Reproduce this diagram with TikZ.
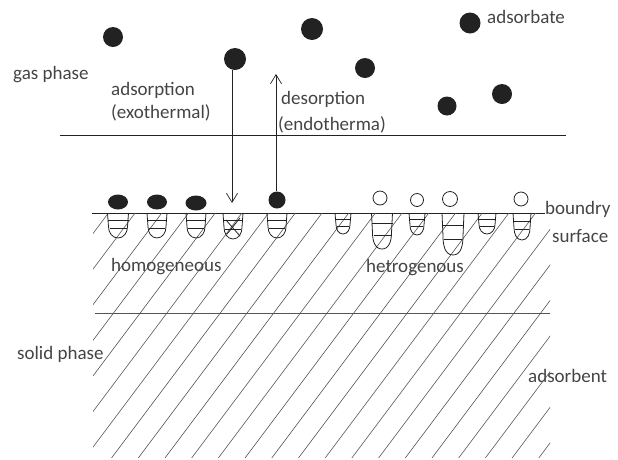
\documentclass[tikz,border=0pt]{standalone}
\usepackage{fontspec}
\setmainfont{Carlito}
\usetikzlibrary{arrows.meta,shapes.geometric}
\definecolor{ink}{HTML}{222222}
\definecolor{txt}{HTML}{444444}
\definecolor{hatch}{HTML}{555555}
\begin{document}
\begin{tikzpicture}[x=1pt,y=-1pt,
  label text/.style={anchor=west,inner sep=0pt,text=txt,font=\fontsize{19}{19}\selectfont,
    text height=1.5ex,text depth=.3ex},
  gas dot/.style={ellipse,fill=ink,inner sep=0pt,minimum width=#1},
  full dot/.style={circle,fill=ink,inner sep=0pt,minimum size=#1},
  open dot/.style={circle,draw=ink,line width=0.8pt,inner sep=0pt,minimum size=#1},
  border/.style={draw=ink,line width=0.9pt},
  pore line/.style={draw=ink,line width=0.8pt},
  flux/.style={draw=ink,line width=0.7pt,-{Straight Barb[length=9pt,width=11pt]}}
]
\useasboundingbox (0,0) rectangle (618,459);

% interface lines
\draw[border] (60,135) -- (566,135);
\draw[border] (92,213) -- (545,213);
\draw[hatch,line width=0.9pt] (95,313) -- (550,313);

% diagonal hatching of the solid
\begin{scope}
  \clip (93,213) rectangle (550,457);
  \foreach \k in {-5,...,21}{
    \pgfmathsetmacro{\xo}{112+26.7*\k}
    \draw[hatch,line width=0.6pt] (\xo+0.75*102,213) -- (\xo-0.75*144,459);
  }
\end{scope}

% pores in the surface: centre, width, depth
\newcommand{\porecup}[3]{%
  \draw[pore line]
    (#1-#2/2,213) -- (#1-#2/2+1,213+0.55*#3)
    to[out=-90,in=180] (#1,213+#3)
    to[out=0,in=-90] (#1+#2/2-1,213+0.55*#3) -- (#1+#2/2,213);
  \draw[pore line] (#1-#2/2,213+0.3*#3) -- (#1+#2/2,213+0.3*#3);
  \draw[pore line] (#1-#2/2+2,213+0.62*#3) -- (#1+#2/2-2,213+0.62*#3);
}
\porecup{118}{21}{25}
\porecup{157}{20}{25}
\porecup{196}{20}{25}
\porecup{233}{20}{26}
\draw[pore line] (226,220) -- (240,236) (240,218) -- (227,234);
\porecup{277}{20}{25}
\porecup{343}{16}{21}
\porecup{382}{21}{36}
\porecup{417}{16}{22}
\porecup{453}{22}{42}
\porecup{487}{18}{21}
\porecup{522}{18}{27}

% adsorbate in the gas phase
\node[full dot=20pt] (g1) at (113,37) {};
\node[full dot=22pt] (g2) at (235,59) {};
\node[full dot=22pt] (g3) at (312,29) {};
\node[full dot=20pt] (g4) at (365,68) {};
\node[full dot=19pt] (g5) at (447,106) {};
\node[full dot=20pt] (g6) at (502,94) {};
\node[full dot=21pt] (g7) at (470,23) {};

% adsorbed particles on the surface
\node[gas dot=20pt,minimum height=15pt] (s1) at (118,202) {};
\node[gas dot=20pt,minimum height=15pt] (s2) at (157,202) {};
\node[gas dot=21pt,minimum height=15pt] (s3) at (196,203) {};
\node[full dot=17pt] (s4) at (277,200) {};
\node[open dot=14pt] (o1) at (380,198) {};
\node[open dot=13pt] (o2) at (417,200) {};
\node[open dot=15pt] (o3) at (450,199) {};
\node[open dot=14pt] (o4) at (521,199) {};

% adsorption and desorption
\coordinate (land) at (232,203);
\coordinate (leave) at (276,74);
\draw[flux] (g2.south -| land) -- (land);
\draw[flux] (s4.north -| leave) -- (leave);

% labels
\node[label text] (tgas) at (13,77) {gas phase};
\node[label text] (tads) at (111,93) {adsorption};
\node[label text] (texo) at (111,116) {(exothermal)};
\node[label text] (tdes) at (281,102) {desorption};
\node[label text] (tendo) at (278,128) {(endotherma)};
\node[label text] (tadsb) at (487,21) {adsorbate};
\node[label text] (tbnd) at (545,212) {boundry};
\node[label text] (tsurf) at (552,240) {surface};
\node[label text] (thom) at (111,269) {homogeneous};
\node[label text] (thet) at (366,270) {hetrogenous};
\node[label text] (tsol) at (17,357) {solid phase};
\node[label text] (tadsn) at (528,380) {adsorbent};
\end{tikzpicture}
\end{document}
